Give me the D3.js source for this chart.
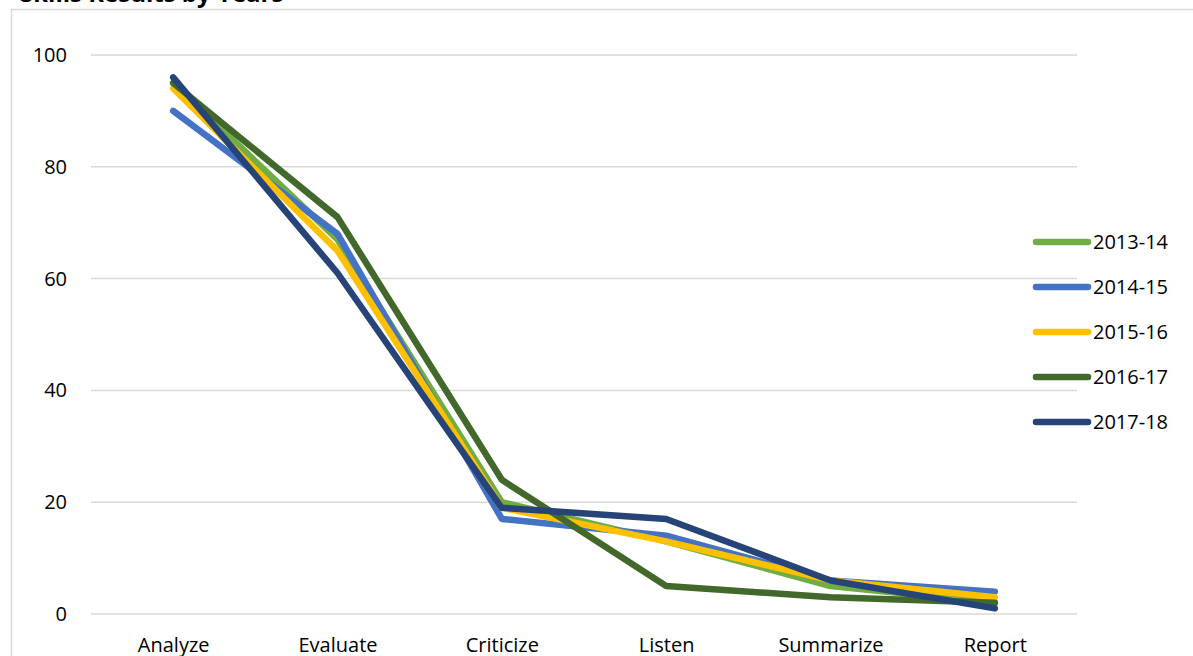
<!DOCTYPE html>
<html>
<head>
<meta charset="utf-8">
<script src="https://cdn.jsdelivr.net/npm/d3@7"></script>
<style>
  html, body { margin: 0; padding: 0; background: #fff; }
  svg { display: block; }
  text { font-family: "Open Sans", "Noto Sans", sans-serif; fill: #000; }
</style>
</head>
<body>
<svg id="chart" width="1193" height="656"></svg>
<script>
const categories = ["Analyze", "Evaluate", "Criticize", "Listen", "Summarize", "Report"];
const seriesNames = ["2013-14", "2014-15", "2015-16", "2016-17", "2017-18"];
const s2013 = [95, 67, 20, 13, 5, 2];
const s2014 = [90, 68, 17, 14, 6, 4];
const s2015 = [94, 65, 19, 13, 6, 3];
const s2016 = [95, 71, 24, 5, 3, 2];
const s2017 = [96, 61, 19, 17, 6, 1];
const yTicks = [0, 20, 40, 60, 80, 100];
const colors = ["#70AD47", "#4472C4", "#FFC000", "#43682B", "#264478"];
const seriesValues = [s2013, s2014, s2015, s2016, s2017];

const svg = d3.select("#chart");

// partially visible title at the very top (cut off in the reference)
svg.append("text").attr("x", 20).attr("y", 2)
  .style("font-size", "24px").style("font-weight", "bold")
  .text("Skills Results by Years");

// chart area border
svg.append("rect").attr("x", 11.5).attr("y", 9.5).attr("width", 1200).attr("height", 700)
  .attr("fill", "none").attr("stroke", "#d9d9d9").attr("stroke-width", 1.5);

const plotLeft = 91, plotRight = 1077, plotTop = 55, plotBottom = 614;
const x = d3.scalePoint().domain(categories).range([plotLeft, plotRight]).padding(0.5);
const y = d3.scaleLinear().domain([0, 100]).range([plotBottom, plotTop]);

// gridlines
svg.append("g").selectAll("line").data(yTicks).join("line")
  .attr("x1", plotLeft).attr("x2", plotRight)
  .attr("y1", d => y(d)).attr("y2", d => y(d))
  .attr("stroke", "#d9d9d9").attr("stroke-width", 1.5);

// y axis labels
const yAxis = d3.axisLeft(y).tickValues(yTicks).tickSize(0).tickPadding(0);
const gy = svg.append("g").attr("transform", `translate(67,0)`).call(yAxis);
gy.select(".domain").remove();
gy.selectAll("text").style("font-size", "20px").style("font-family", '"Open Sans", sans-serif').attr("fill", "#000");

// x axis labels
const xAxis = d3.axisBottom(x).tickSize(0).tickPadding(0);
const gx = svg.append("g").attr("transform", `translate(0,638)`).call(xAxis);
gx.select(".domain").remove();
gx.selectAll("text").style("font-size", "20px").style("font-family", '"Open Sans", sans-serif').attr("fill", "#000");

// lines
const line = d3.line().x((d, i) => x(categories[i])).y(d => y(d));
svg.append("g").selectAll("path").data(seriesValues).join("path")
  .attr("d", d => line(d))
  .attr("fill", "none")
  .attr("stroke", (d, i) => colors[i])
  .attr("stroke-width", 6.5)
  .attr("stroke-linecap", "round")
  .attr("stroke-linejoin", "round");

// legend
const legendY = [242, 287, 332, 377, 422];
const lg = svg.append("g").selectAll("g").data(seriesNames).join("g")
  .attr("transform", (d, i) => `translate(0,${legendY[i]})`);
lg.append("line").attr("x1", 1036).attr("x2", 1088).attr("y1", 0).attr("y2", 0)
  .attr("stroke", (d, i) => colors[i]).attr("stroke-width", 6.5).attr("stroke-linecap", "round");
lg.append("text").attr("x", 1093).attr("y", 0).attr("dy", "0.35em")
  .style("font-size", "20px").text(d => d);
</script>
</body>
</html>
